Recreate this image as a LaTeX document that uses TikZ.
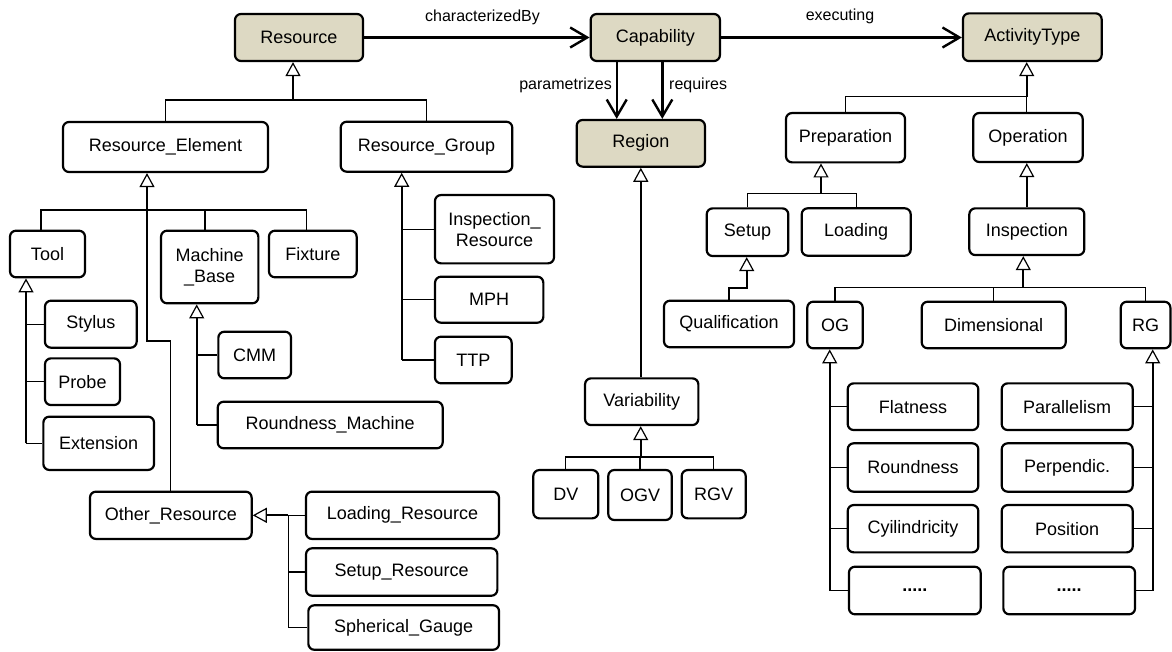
\documentclass[tikz,border=0pt]{standalone}
\usepackage{fontspec}
\setmainfont{Liberation Sans}
\usetikzlibrary{arrows.meta,calc}
\definecolor{rootfill}{HTML}{DDD9C3}
\newcommand{\boxfont}{\fontsize{18}{21}\selectfont}
\newcommand{\relfont}{\fontsize{16}{18}\selectfont}

\begin{document}
\begin{tikzpicture}[x=1pt,y=-1pt,
  box/.style={draw=black, line width=2.2pt, rounded corners=6pt, inner sep=0pt,
              align=center, font=\boxfont, fill=white},
  root/.style={box, fill=rootfill},
  sz/.style 2 args={minimum width=#1pt, minimum height=#2pt},
  rel/.style={font=\relfont, inner sep=0pt},
  assoc/.style={line width=2.4pt, -{Straight Barb[length=17pt, width=20pt, line width=2.4pt]}},
  gen/.style={line width=1.8pt, -{Triangle[length=14pt, width=15pt, fill=white, line width=1.2pt]}},
  branch/.style={line width=1.3pt}]
\useasboundingbox (0,0) rectangle (1172,651);

% ---- top-level concepts
\node[root, sz={128}{47}]     (res) at (299,37.5)    {Resource};
\node[root, sz={129.3}{47}]   (cap) at (655.3,37.5)  {Capability};
\node[root, sz={138.7}{47.7}] (act) at (1032.3,37.2) {ActivityType};
\node[root, sz={128.3}{46.7}] (reg) at (640.8,143.3) {Region};

% ---- resource hierarchy
\node[box, sz={205}{50}]     (rel)     at (165.5,147)   {Resource\_Element};
\node[box, sz={171.6}{50}]   (rgr)     at (426.5,146.7) {Resource\_Group};
\node[box, sz={75}{46.6}]    (tool)    at (47.5,254)    {Tool};
\node[box, sz={97.3}{72.6}]  (mbase)   at (209.7,267)   {Machine\\\_Base};
\node[box, sz={87.7}{46.6}]  (fix)     at (312.8,254)   {Fixture};
\node[box, sz={91.7}{47}]    (stylus)  at (90.8,324.2)  {Stylus};
\node[box, sz={75}{46.7}]    (probe)   at (82.5,381.7)  {Probe};
\node[box, sz={110.7}{53.3}] (ext)     at (98.7,443.3)  {Extension};
\node[box, sz={72.7}{46.6}]  (cmm)     at (254.7,355)   {CMM};
\node[box, sz={225}{46.6}]   (rmach)   at (330.2,425)   {Roundness\_Machine};
\node[box, sz={119}{68.3}]   (inspres) at (494.5,229.2) {Inspection\_\\Resource};
\node[box, sz={108.3}{46}]   (mph)     at (489.2,299.7) {MPH};
\node[box, sz={76.7}{46.6}]  (ttp)     at (473.3,360)   {TTP};
\node[box, sz={161.7}{47.3}] (other)   at (170.8,515.3) {Other\_Resource};
\node[box, sz={193}{47.3}]   (loadres) at (402.5,515.3) {Loading\_Resource};
\node[box, sz={191.3}{47.4}] (setres)  at (401.7,572)   {Setup\_Resource};
\node[box, sz={190.7}{44.5}] (sph)     at (403.7,627.5) {Spherical\_Gauge};

% ---- region hierarchy
\node[box, sz={113.3}{46.7}] (var) at (641.7,401.7) {Variability};
\node[box, sz={65}{48.3}]    (dv)  at (565.8,494.2) {DV};
\node[box, sz={63.4}{50}]    (ogv) at (640,495)     {OGV};
\node[box, sz={64}{48.3}]    (rgv) at (713.7,494.2) {RGV};

% ---- activity hierarchy
\node[box, sz={119}{49.3}]   (prep)  at (845.5,137.7)  {Preparation};
\node[box, sz={109.4}{49}]   (oper)  at (1028,137.5)   {Operation};
\node[box, sz={81.6}{47.7}]  (setup) at (747.5,232.2)  {Setup};
\node[box, sz={109}{47.4}]   (load)  at (856.2,232)    {Loading};
\node[box, sz={130}{46.6}]   (qual)  at (729,324)      {Qualification};
\node[box, sz={115}{46.7}]   (insp)  at (1026.8,231.7) {Inspection};
\node[box, sz={55.4}{46.6}]  (og)    at (835,325)      {OG};
\node[box, sz={144}{46.6}]   (dim)   at (993.7,325)    {Dimensional};
\node[box, sz={49.6}{46.6}]  (rg)    at (1145.6,325)   {RG};
\node[box, sz={130.6}{46.7}] (flat)  at (913,406.7)    {Flatness};
\node[box, sz={131}{46.7}]   (para)  at (1067.2,406.7) {Parallelism};
\node[box, sz={130.6}{48.4}] (round) at (913,467.5)    {Roundness};
\node[box, sz={131}{48.4}]   (perp)  at (1067.2,467.5) {Perpendic.};
\node[box, sz={130.6}{47.3}] (cyl)   at (913,528.7)    {Cyilindricity};
\node[box, sz={131}{47.3}]   (pos)   at (1067.2,528.7) {Position};
\node[box, sz={131.7}{47.6}] (dotsa) at (914.8,590.5)  {\textbf{.....}};
\node[box, sz={131.7}{47.6}] (dotsb) at (1069.2,590.5) {\textbf{.....}};

% ---- associations
\draw[assoc] (res.east) -- (res.east -| cap.west);
\draw[assoc] (cap.east) -- (cap.east -| act.west);
\coordinate (pa) at ($(cap.south)+(-38.6,0)$);
\coordinate (pb) at ($(cap.south)+(7,0)$);
\draw[assoc] (pa) -- (pa |- reg.north);
\draw[assoc] (pb) -- (pb |- reg.north);
\node[rel] (lchar) at (482.5,17) {characterizedBy};
\node[rel] (lexec) at (840,16) {executing};
\node[rel, anchor=east] (lpar) at (612,85) {parametrizes};
\node[rel, anchor=west] (lreq) at (669,85) {requires};

% ---- generalizations: resources
\coordinate (j1) at ($(res.south)+(-6,38)$);
\draw[gen] (j1) -- (j1 |- res.south);
\draw[branch] (rel.north) |- (j1) -| (rgr.north);

\coordinate (j2) at ($(rel.south)+(-18.5,37)$);
\draw[gen] (j2) -- (j2 |- rel.south);
\coordinate (toolin) at ($(tool.north)+(-6.5,0)$);
\coordinate (fixin) at ($(fix.north)+(-6,0)$);
\coordinate (mbin) at ($(mbase.north)+(-4.7,0)$);
\draw[branch] (toolin) |- (j2) -| (fixin);
\draw[branch] (mbin) -- (mbin |- j2);
\coordinate (bend) at ($(j2)+(0,131)$);
\draw[branch] (j2) -- (bend) -| (other.north);

\coordinate (tk) at ($(tool.south)+(-21.5,0)$);
\draw[gen] (tk |- ext.west) -- (tk);
\foreach \c in {stylus,probe,ext} \draw[branch] (tk |- \c.west) -- (\c.west);

\coordinate (mk) at ($(mbase.south)+(-13,0)$);
\draw[gen] (mk |- rmach.west) -- (mk);
\foreach \c in {cmm,rmach} \draw[branch] (mk |- \c.west) -- (\c.west);

\coordinate (gk) at ($(rgr.south)+(-24.8,0)$);
\draw[gen] (gk |- ttp.west) -- (gk);
\foreach \c in {inspres,mph,ttp} \draw[branch] (gk |- \c.west) -- (\c.west);

\coordinate (ok) at ($(other.east)+(35.6,0)$);
\draw[gen] (ok) -- (other.east);
\draw[branch] (loadres.west) -- (ok) -- (ok |- sph.west) -- (sph.west);
\draw[branch] (ok |- setres.west) -- (setres.west);

% ---- generalizations: region
\draw[gen] (var.north -| reg.south) -- (reg.south);
\coordinate (vj) at ($(var.south)+(-1,30.7)$);
\draw[gen] (vj) -- (vj |- var.south);
\draw[branch] (dv.north) |- (vj) -| (rgv.north);
\draw[branch] (ogv.north) -- (ogv.north |- vj);

% ---- generalizations: activities
\coordinate (aj) at ($(act.south)+(-5.6,34.6)$);
\draw[gen] (aj) -- (aj |- act.south);
\draw[branch] (prep.north) |- (aj) -- (aj |- oper.north);

\coordinate (pj) at ($(prep.south)+(-24.5,30.3)$);
\draw[gen] (pj) -- (pj |- prep.south);
\draw[branch] (setup.north) |- (pj) -| (load.north);

\coordinate (sj) at ($(setup.south)+(-0.8,30.6)$);
\draw[gen] (qual.north) |- (sj) -- (sj |- setup.south);

\draw[gen] (insp.north) -- (insp.north |- oper.south);

\coordinate (ij) at ($(insp.south)+(-3.5,31)$);
\draw[gen] (ij) -- (ij |- insp.south);
\draw[branch] (og.north) |- (ij) -| (rg.north);
\draw[branch] (dim.north) -- (dim.north |- ij);

\coordinate (ogk) at ($(og.south)+(-5.3,0)$);
\draw[gen] (ogk |- dotsa.west) -- (ogk);
\foreach \c in {flat,round,cyl,dotsa} \draw[branch] (ogk |- \c.west) -- (\c.west);

\coordinate (rgk) at ($(rg.south)+(7.1,0)$);
\draw[gen] (rgk |- dotsb.east) -- (rgk);
\foreach \c in {para,perp,pos,dotsb} \draw[branch] (\c.east) -- (rgk |- \c.east);
\end{tikzpicture}
\end{document}
